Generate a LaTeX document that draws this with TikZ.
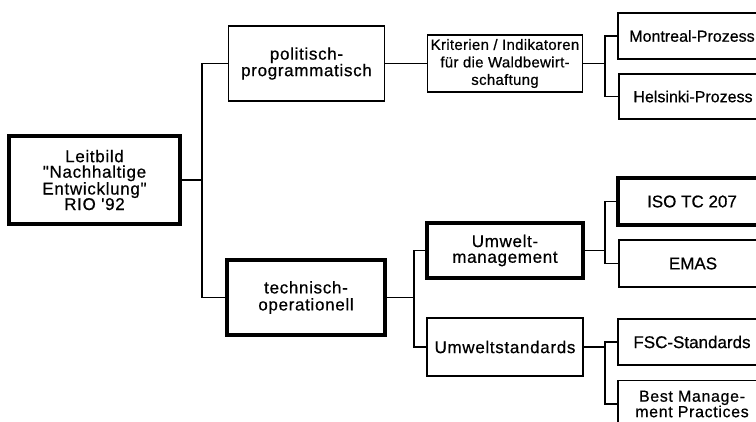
\documentclass[tikz,border=0pt]{standalone}
\usepackage{fontspec}
\setmainfont{Liberation Sans}[FakeBold=0.6]
\newfontfamily\lsfont{Liberation Sans}[LetterSpace=4,FakeBold=0.6]
\newfontfamily\lsfontb{Liberation Sans}[LetterSpace=2,FakeBold=0.6]
\begin{document}
\begin{tikzpicture}[x=1pt,y=-1pt,
  box/.style={draw, line width=1.5pt, inner sep=0pt, align=center,
    font=\lsfont\fontsize{17}{16.5}\selectfont},
  heavy/.style={box, line width=4.5pt},
  plainfont/.style={font=\fontsize{17}{16.5}\selectfont},
  smallfont/.style={font=\fontsize{16}{16}\selectfont},
  link/.style={line width=1.5pt}]
\useasboundingbox (0,0) rectangle (756,421);
\clip (0,0) rectangle (756,421);
\fill[white] (0,0) rectangle (756,421);

% left column
\node[heavy, minimum width=171pt, minimum height=88pt,
  font=\lsfont\fontsize{17}{15.5}\selectfont] (leit) at (94.5,180)
  {Leitbild\\"Nachhaltige\\Entwicklung"\\RIO '92};

% second column
\node[box, minimum width=156pt, minimum height=75pt] (pol) at (306.5,63.5)
  {politisch-\\programmatisch};
\node[heavy, line width=4pt, minimum width=158pt, minimum height=75pt,
  font=\lsfont\fontsize{17}{17}\selectfont] (tech) at (306,297.5)
  {technisch-\\operationell};

% third column
\node[box, minimum width=155pt, minimum height=57pt,
  font=\lsfontb\fontsize{15}{17.5}\selectfont] (krit) at (505,63.5)
  {Kriterien / Indikatoren\\für die Waldbewirt-\\schaftung};
\node[heavy, minimum width=156pt, minimum height=55pt,
  font=\lsfont\fontsize{17}{15.7}\selectfont] (uman) at (505,250.5)
  {Umwelt-\\management};
\node[box, minimum width=156pt, minimum height=58pt] (ustd) at (505,347)
  {Umweltstandards};

% right column
\node[box, smallfont, minimum width=148pt, minimum height=46pt] (mont) at (692,36)
  {Montreal-Prozess};
\node[box, smallfont, minimum width=148pt, minimum height=45pt] (hels) at (693,96.5)
  {Helsinki-Prozess};
\node[heavy, line width=4pt, plainfont, minimum width=148pt, minimum height=47pt] (iso) at (692,201.5)
  {ISO TC 207};
\node[box, plainfont, minimum width=148pt, minimum height=47pt] (emas) at (693,263.5)
  {EMAS};
\node[box, plainfont, minimum width=148pt, minimum height=46pt] (fsc) at (692,342)
  {FSC-Standards};
\node[box, minimum width=148pt, minimum height=47pt,
  font=\lsfont\fontsize{16}{15.5}\selectfont] (best) at (692,404)
  {Best Manage-\\ment Practices};

% junctions
\coordinate (j1) at (202,180);
\coordinate (j2) at (605,63.5);
\coordinate (j3) at (414,297.5);
\coordinate (j4) at (605,250.5);
\coordinate (j5) at (605,347);

% connectors
\draw[link] (leit.east) -- (j1);
\draw[link] (pol.west) -| (j1);
\draw[link] (tech.west) -| (j1);

\draw[link] (pol.east) -- (krit.west);
\draw[link] (krit.east) -- (j2);
\draw[link] (mont.west) -| (j2);
\draw[link] (hels.west) -| (j2);

\draw[link] (tech.east) -- (j3);
\draw[link] (uman.west) -| (j3);
\draw[link] (ustd.west) -| (j3);

\draw[link] (uman.east) -- (j4);
\draw[link] (iso.west) -| (j4);
\draw[link] (emas.west) -| (j4);

\draw[link] (ustd.east) -- (j5);
\draw[link] (fsc.west) -| (j5);
\draw[link] (best.west) -| (j5);
\end{tikzpicture}
\end{document}
